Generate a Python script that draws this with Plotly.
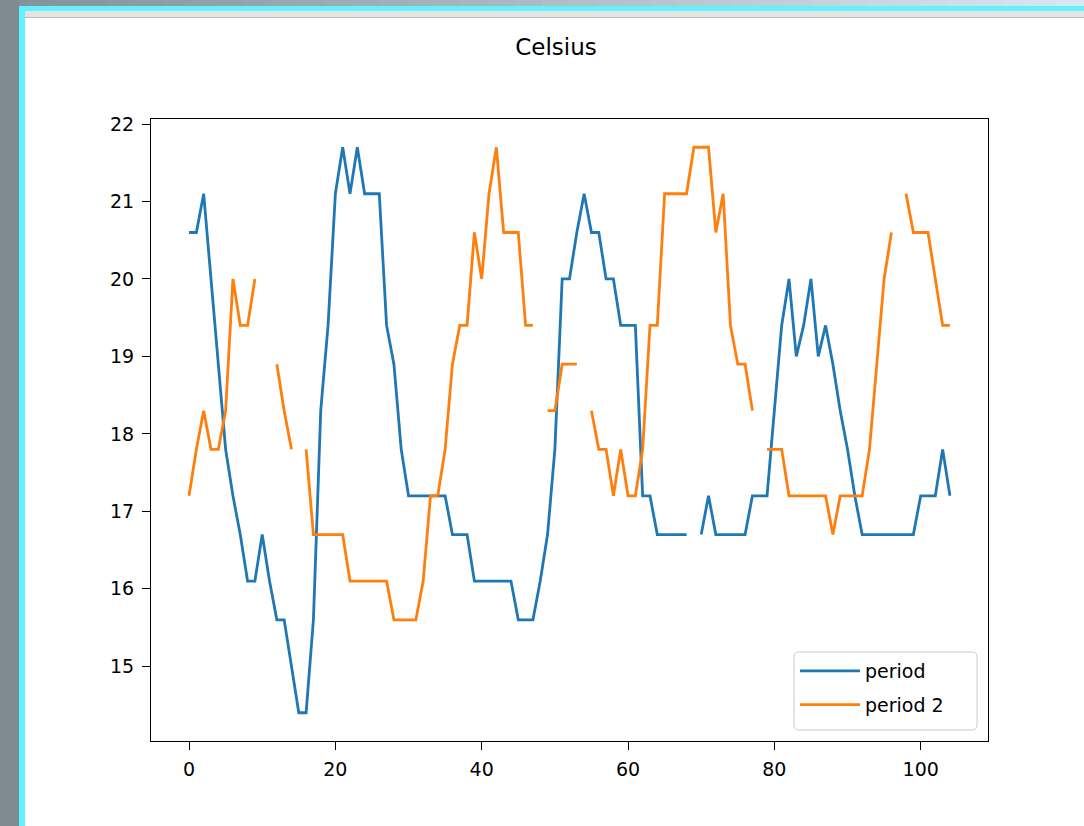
import plotly.graph_objects as go

# ---- data ----
idx = list(range(105))

period = [
    20.6, 20.6, 21.1, 20.0, 18.9, 17.8, 17.2, 16.7, 16.1, 16.1,
    16.7, 16.1, 15.6, 15.6, 15.0, 14.4, 14.4, 15.6, 18.3, 19.4,
    21.1, 21.7, 21.1, 21.7, 21.1, 21.1, 21.1, 19.4, 18.9, 17.8,
    17.2, 17.2, 17.2, 17.2, 17.2, 17.2, 16.7, 16.7, 16.7, 16.1,
    16.1, 16.1, 16.1, 16.1, 16.1, 15.6, 15.6, 15.6, 16.1, 16.7,
    17.8, 20.0, 20.0, 20.6, 21.1, 20.6, 20.6, 20.0, 20.0, 19.4,
    19.4, 19.4, 17.2, 17.2, 16.7, 16.7, 16.7, 16.7, 16.7, None,
    16.7, 17.2, 16.7, 16.7, 16.7, 16.7, 16.7, 17.2, 17.2, 17.2,
    18.3, 19.4, 20.0, 19.0, 19.4, 20.0, 19.0, 19.4, 18.9, 18.3,
    17.8, 17.2, 16.7, 16.7, 16.7, 16.7, 16.7, 16.7, 16.7, 16.7,
    17.2, 17.2, 17.2, 17.8, 17.2,
]

period_2 = [
    17.2, 17.8, 18.3, 17.8, 17.8, 18.3, 20.0, 19.4, 19.4, 20.0,
    None, None, 18.9, 18.3, 17.8, None, 17.8, 16.7, 16.7, 16.7,
    16.7, 16.7, 16.1, 16.1, 16.1, 16.1, 16.1, 16.1, 15.6, 15.6,
    15.6, 15.6, 16.1, 17.2, 17.2, 17.8, 18.9, 19.4, 19.4, 20.6,
    20.0, 21.1, 21.7, 20.6, 20.6, 20.6, 19.4, 19.4, None, 18.3,
    18.3, 18.9, 18.9, 18.9, None, 18.3, 17.8, 17.8, 17.2, 17.8,
    17.2, 17.2, 17.8, 19.4, 19.4, 21.1, 21.1, 21.1, 21.1, 21.7,
    21.7, 21.7, 20.6, 21.1, 19.4, 18.9, 18.9, 18.3, None, 17.8,
    17.8, 17.8, 17.2, 17.2, 17.2, 17.2, 17.2, 17.2, 16.7, 17.2,
    17.2, 17.2, 17.2, 17.8, 18.9, 20.0, 20.6, None, 21.1, 20.6,
    20.6, 20.6, 20.0, 19.4, 19.4,
]

series_names = ["period", "period 2"]
x_ticks = [0, 20, 40, 60, 80, 100]
y_ticks = [15, 16, 17, 18, 19, 20, 21, 22]
title_text = "Celsius"

# ---- layout geometry ----
W, H = 1084, 826
L, R, T, B = 151, 96, 119, 85
PW, PH = W - L - R, H - T - B


def px(x):
    return (x - L) / PW


def py(y):
    return (H - B - y) / PH


FONT = "DejaVu Sans"

fig = go.Figure()
fig.add_trace(go.Scatter(x=idx, y=period, mode="lines", name=series_names[0],
                         legendgroup="a",
                         line=dict(color="#1f77b4", width=2.8)))
fig.add_trace(go.Scatter(x=idx, y=period_2, mode="lines", name=series_names[1],
                         legendgroup="b",
                         line=dict(color="#ff7f0e", width=2.8)))

# ---- screenshot window frame (decoration) ----
shapes = []
n = 40
c0 = (0x84, 0x92, 0x99)
c1 = (0xd6, 0xe8, 0xf0)
for k in range(n):
    t = k / (n - 1)
    col = tuple(int(c0[j] + (c1[j] - c0[j]) * t) for j in range(3))
    x0 = W * k / n
    x1 = W * (k + 1) / n + 1
    shapes.append(dict(type="rect", xref="paper", yref="paper",
                       x0=px(x0), x1=px(x1), y0=py(6), y1=py(0),
                       fillcolor="rgb(%d,%d,%d)" % col, line=dict(width=0)))
shapes.append(dict(type="rect", xref="paper", yref="paper",
                   x0=px(0), x1=px(19), y0=py(H), y1=py(0),
                   fillcolor="#7e8b91", line=dict(width=0)))
shapes.append(dict(type="rect", xref="paper", yref="paper",
                   x0=px(19), x1=px(25), y0=py(H), y1=py(6),
                   fillcolor="#62f2ff", line=dict(width=0)))
shapes.append(dict(type="rect", xref="paper", yref="paper",
                   x0=px(19), x1=px(W), y0=py(11), y1=py(6),
                   fillcolor="#62f2ff", line=dict(width=0)))
shapes.append(dict(type="rect", xref="paper", yref="paper",
                   x0=px(25), x1=px(W), y0=py(17), y1=py(11),
                   fillcolor="#e4e4e4", line=dict(width=0)))
shapes.append(dict(type="rect", xref="paper", yref="paper",
                   x0=px(25), x1=px(W), y0=py(18), y1=py(17),
                   fillcolor="#bdbdbd", line=dict(width=0)))

# legend frame (rounded box, matplotlib style)
lx0, lx1, ly0, ly1, rr = 794, 977, 652, 730, 5
path = (
    f"M {px(lx0 + rr)},{py(ly0)} L {px(lx1 - rr)},{py(ly0)} "
    f"Q {px(lx1)},{py(ly0)} {px(lx1)},{py(ly0 + rr)} "
    f"L {px(lx1)},{py(ly1 - rr)} Q {px(lx1)},{py(ly1)} {px(lx1 - rr)},{py(ly1)} "
    f"L {px(lx0 + rr)},{py(ly1)} Q {px(lx0)},{py(ly1)} {px(lx0)},{py(ly1 - rr)} "
    f"L {px(lx0)},{py(ly0 + rr)} Q {px(lx0)},{py(ly0)} {px(lx0 + rr)},{py(ly0)} Z"
)
shapes.append(dict(type="path", xref="paper", yref="paper", path=path,
                   fillcolor="rgba(255,255,255,0.8)", layer="above",
                   line=dict(color="#cccccc", width=1)))

axis_common = dict(
    showgrid=False, zeroline=False, showline=True, mirror=True,
    linecolor="black", linewidth=1.2, ticks="outside", ticklen=8,
    tickwidth=1.2, tickcolor="black",
    tickfont=dict(family=FONT, size=19, color="black"),
)

fig.update_layout(
    width=W, height=H,
    margin=dict(l=L, r=R, t=T, b=B, autoexpand=False),
    paper_bgcolor="white", plot_bgcolor="white",
    shapes=shapes,
    title=dict(text=title_text, x=px(556), xref="paper", xanchor="center",
               y=1 - 47 / H, yref="container", yanchor="middle",
               font=dict(family=FONT, size=23, color="black")),
    xaxis=dict(range=[-5.2, 109.2], tickvals=x_ticks, ticklabelstandoff=3,
               **axis_common),
    yaxis=dict(range=[14.035, 22.065], tickvals=y_ticks, ticklabelstandoff=4,
               **axis_common),
    legend=dict(x=px(795), y=py(652), xanchor="left", yanchor="top",
                bgcolor="rgba(0,0,0,0)", borderwidth=0,
                tracegroupgap=6, itemwidth=60,
                font=dict(family=FONT, size=19, color="black")),
    showlegend=True,
)

fig.write_html(
    "out.html",
    config={"displayModeBar": False},
    post_script="document.body.style.margin='0px';"
                "document.body.style.overflow='hidden';",
)
